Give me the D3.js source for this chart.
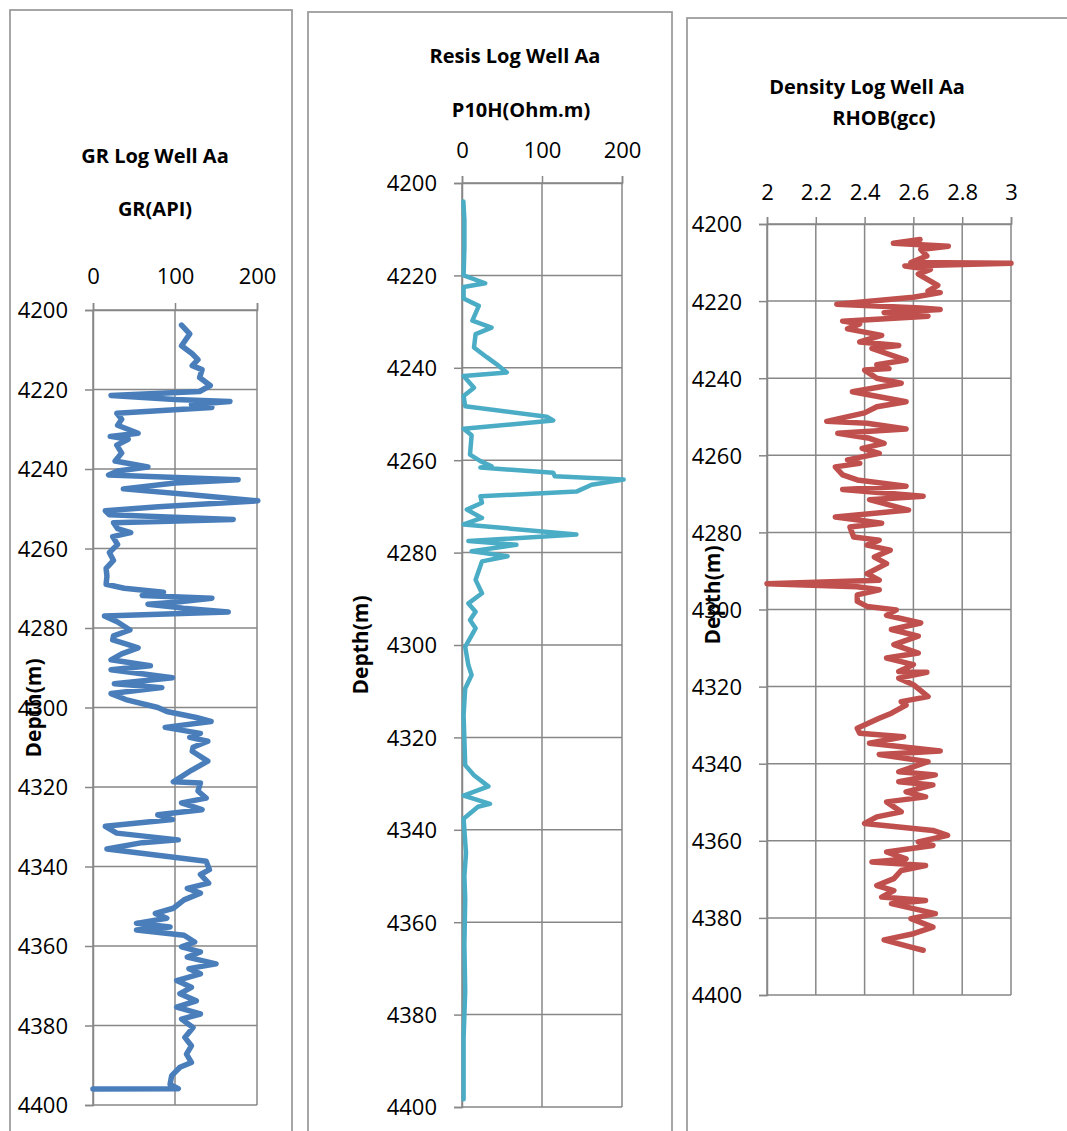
<!DOCTYPE html>
<html>
<head>
<meta charset="utf-8">
<script src="https://cdn.jsdelivr.net/npm/d3@7"></script>
<style>
  body { margin: 0; background: #fff; }
  svg { display: block; font-family: "Open Sans", sans-serif; }
</style>
</head>
<body>
<div class="chart"></div>
<script>
//----Data----
const depthTicks = [4200, 4220, 4240, 4260, 4280, 4300, 4320, 4340, 4360, 4380, 4400]
const grTicks = [0, 100, 200]
const resTicks = [0, 100, 200]
const rhobTicks = [2, 2.2, 2.4, 2.6, 2.8, 3]

const grDepth = [4203.8, 4206, 4209, 4211, 4212.5, 4214, 4215, 4217, 4219, 4220.5, 4221.5, 4222.5, 4223, 4223.8, 4224.5,
  4226, 4227.5, 4229, 4231, 4231.8, 4232.5, 4234, 4236, 4238, 4239.5, 4240.5, 4241.5, 4242.7, 4243.5, 4245, 4246.5,
  4248, 4249.5, 4250.5, 4251.5, 4252.7, 4253.5, 4255, 4256, 4257, 4259, 4261, 4263, 4265, 4267, 4269, 4270, 4271,
  4271.8, 4272.5, 4273.5, 4274, 4275, 4276, 4277, 4278.5, 4280.5, 4282, 4283, 4284, 4285, 4286.5, 4288, 4289.5,
  4290.5, 4292.5, 4294, 4295, 4296.5, 4298, 4300, 4301, 4302.5, 4303.5, 4305, 4306.5, 4307.5, 4308.5, 4310, 4311,
  4313.5, 4315.8, 4318.7, 4319, 4321, 4322.8, 4324, 4325.7, 4327, 4328.2, 4329.9, 4331.6, 4333.3, 4334, 4335.6,
  4338.7, 4340.8, 4342, 4344.2, 4345.5, 4346.7, 4348.4, 4350.5, 4351.8, 4353, 4354.3, 4355.2, 4356, 4357.3, 4359,
  4360.2, 4361.5, 4362.8, 4364.5, 4365.7, 4367, 4368.7, 4370.4, 4372, 4373.8, 4375.4, 4377.1, 4378.4, 4380.5, 4383,
  4385.1, 4387.2, 4389.3, 4390.5, 4392.6, 4394.8, 4395.9, 4396]
const grValue = [108, 118, 108, 121, 128, 121, 133, 130, 143, 130, 22, 100, 167, 120, 145,
  29, 35, 30, 55, 21, 43, 29, 35, 27, 67, 30, 19, 177, 100, 37, 120,
  201, 80, 15, 20, 171, 25, 30, 46, 24, 30, 20, 25, 16, 17, 16, 38, 86,
  60, 145, 100, 67, 110, 165, 14, 30, 45, 25, 24, 40, 55, 35, 22, 70,
  22, 97, 26, 84, 22, 40, 79, 90, 126, 144, 88, 131, 118, 140, 122, 121,
  140, 120, 98, 131, 128, 138, 108, 133, 79, 97, 15, 29, 104, 60, 17,
  138, 142, 131, 141, 115, 131, 111, 98, 76, 90, 53, 94, 53, 111, 124,
  108, 131, 115, 150, 117, 131, 102, 120, 106, 126, 102, 131, 108, 122, 112,
  120, 114, 120, 106, 96, 94, 104, 0]

const resDepth = [4204, 4208, 4214, 4220, 4221.7, 4222.5, 4225, 4226.6, 4229.8, 4231.3, 4232.7, 4235.6, 4237.7, 4239.2,
  4241, 4241.8, 4244.3, 4246.1, 4248.3, 4250.6, 4251.4, 4253.2, 4254.6, 4258.8, 4260.2, 4261.3, 4261.6, 4262.7,
  4263.5, 4264.2, 4265.3, 4266.8, 4267.8, 4269.2, 4270.7, 4272.5, 4273.9, 4276.1, 4277.5, 4278.3, 4279.7, 4280.8,
  4281.9, 4285.9, 4288.8, 4291, 4292.8, 4294.6, 4296.4, 4300.4, 4304.4, 4306.5, 4309.4, 4315.2, 4326, 4328.2,
  4330.6, 4332.6, 4334.4, 4335, 4337.6, 4345, 4350, 4355, 4365, 4375, 4385, 4398.3]
const resValue = [1.7, 3, 3, 2, 29, 2, 2, 21, 13, 37, 17, 15, 31, 43,
  56, 2, 15, 2, 4, 106, 114, 2, 12, 10, 23, 37, 23, 114,
  116, 202, 162, 143, 23, 25, 6, 25, 2, 143, 8, 68, 12, 57,
  25, 17, 25, 8, 17, 10, 17, 4, 8, 12, 4, 2, 4, 15,
  33, 2, 35, 20, 2, 5, 3, 4, 3, 4, 2, 2]

const rhobDepth = [4204, 4205, 4205.8, 4206.6, 4208.3, 4210, 4210.2, 4210.9, 4211.8, 4213, 4215.9, 4217.4, 4217.8, 4219,
  4220.8, 4221.8, 4222.2, 4223, 4223.9, 4225.2, 4225.9, 4227.2, 4228.9, 4230.6, 4231.5, 4232.3, 4235.3, 4236.5,
  4237.5, 4237.9, 4240, 4241.3, 4243.5, 4246.1, 4247.4, 4249, 4251.2, 4251.7, 4253.2, 4254.3, 4255.6, 4256.9,
  4258.2, 4259.5, 4261.2, 4262.1, 4263, 4265.1, 4266.4, 4268, 4268.9, 4270.6, 4271.5, 4274.2, 4276, 4277.6,
  4278.6, 4281.2, 4282, 4283.3, 4284.6, 4286.4, 4288.1, 4290.7, 4292.4, 4293.3, 4294.1, 4294.9, 4296.2, 4297.9,
  4299.2, 4300.1, 4301.5, 4303.5, 4305.2, 4306.9, 4309.1, 4311.3, 4312.6, 4314.3, 4316.1, 4316.3, 4317.8, 4319.5,
  4322.6, 4323.9, 4324.8, 4326.9, 4328.2, 4330.8, 4332.1, 4333, 4334.7, 4336.7, 4337.6, 4339.5, 4342.1, 4342.9,
  4344.7, 4345.5, 4347.3, 4348.6, 4349.9, 4352.5, 4353.8, 4355.5, 4357.3, 4358.6, 4360.3, 4361.2, 4362.9, 4364.7,
  4365.5, 4366.4, 4367.7, 4369.8, 4371.6, 4372.9, 4374.6, 4375.5, 4376.3, 4378.9, 4380.2, 4382.4, 4384.1, 4385.7,
  4387.6, 4388.4]
const rhobValue = [2.627, 2.518, 2.743, 2.63, 2.655, 2.59, 3.0, 2.565, 2.67, 2.62, 2.70, 2.66, 2.71, 2.6,
  2.286, 2.63, 2.71, 2.48, 2.66, 2.31, 2.38, 2.33, 2.47, 2.38, 2.54, 2.43, 2.57, 2.45,
  2.50, 2.40, 2.45, 2.55, 2.35, 2.57, 2.45, 2.40, 2.245, 2.41, 2.57, 2.29, 2.42, 2.48,
  2.39, 2.46, 2.33, 2.38, 2.28, 2.31, 2.37, 2.57, 2.31, 2.64, 2.42, 2.58, 2.28, 2.47,
  2.34, 2.355, 2.46, 2.41, 2.505, 2.44, 2.49, 2.41, 2.46, 2.0, 2.37, 2.46, 2.37, 2.37,
  2.41, 2.53, 2.49, 2.63, 2.51, 2.62, 2.52, 2.62, 2.49, 2.6, 2.54, 2.655, 2.54, 2.6,
  2.66, 2.55, 2.57, 2.51, 2.46, 2.37, 2.38, 2.56, 2.42, 2.71, 2.46, 2.66, 2.54, 2.69,
  2.54, 2.68, 2.57, 2.65, 2.49, 2.55, 2.45, 2.40, 2.68, 2.74, 2.62, 2.68, 2.49, 2.57,
  2.43, 2.65, 2.55, 2.52, 2.45, 2.52, 2.47, 2.65, 2.51, 2.69, 2.59, 2.68, 2.60, 2.48,
  2.59, 2.64]

//----Layout----
const svg = d3.select(".chart").append("svg")
    .attr("width", 1067)
    .attr("height", 1131)

const tracks = [
  {box: [10, 10, 282, 1140], plot: [93, 310, 257, 1105], domain: [0, 200], ticks: grTicks,
   depth: grDepth, value: grValue, color: "#4a7ebb", width: 5.5,
   title: ["GR Log Well Aa", 155, 156], unit: ["GR(API)", 155, 209],
   topLabelY: 276, depthLabel: [33, 708]},
  {box: [308, 12, 364, 1140], plot: [462, 183, 622, 1107], domain: [0, 200], ticks: resTicks,
   depth: resDepth, value: resValue, color: "#4bacc6", width: 4.5,
   title: ["Resis Log Well Aa", 515, 56], unit: ["P10H(Ohm.m)", 521, 110],
   topLabelY: 150, depthLabel: [360, 645]},
  {box: [687, 18, 420, 1140], plot: [767, 224, 1011, 995], domain: [2, 3], ticks: rhobTicks,
   depth: rhobDepth, value: rhobValue, color: "#c0504d", width: 5.5,
   title: ["Density Log Well Aa", 867, 87], unit: ["RHOB(gcc)", 884, 118],
   topLabelY: 192, depthLabel: [712, 595]}
]

function drawTrack(t) {
  const g = svg.append("g")

  // chart border
  g.append("rect")
    .attr("x", t.box[0]).attr("y", t.box[1])
    .attr("width", t.box[2]).attr("height", t.box[3])
    .attr("fill", "none")
    .attr("stroke", "#9a9a9a")
    .attr("stroke-width", 1.75)

  const x = d3.scaleLinear().domain(t.domain).range([t.plot[0], t.plot[2]])
  const y = d3.scaleLinear().domain([4200, 4400]).range([t.plot[1], t.plot[3]])

  // gridlines
  g.append("g").selectAll("line").data(depthTicks).enter().append("line")
    .attr("x1", t.plot[0]).attr("x2", t.plot[2])
    .attr("y1", d => y(d)).attr("y2", d => y(d))
    .attr("stroke", "#878787").attr("stroke-width", 1.5)

  g.append("g").selectAll("line").data(t.ticks).enter().append("line")
    .attr("x1", d => x(d)).attr("x2", d => x(d))
    .attr("y1", t.plot[1]).attr("y2", t.plot[3])
    .attr("stroke", "#878787").attr("stroke-width", 1.5)

  const yAxis = d3.axisLeft(y).tickValues(depthTicks).tickSize(8).tickPadding(17).tickFormat(d3.format("d"))
  const xAxis = d3.axisTop(x).tickValues(t.ticks).tickSize(7).tickPadding(20).tickFormat(d => d)

  const ya = g.append("g")
    .attr("transform", `translate(${t.plot[0]},0)`)
    .call(yAxis)
  const xa = g.append("g")
    .attr("transform", `translate(0,${t.plot[1]})`)
    .call(xAxis)

  for (const a of [ya, xa]) {
    a.select(".domain").attr("stroke", "#878787").attr("stroke-width", 1.5)
    a.selectAll(".tick line").attr("stroke", "#878787").attr("stroke-width", 1.5)
    a.selectAll(".tick text")
      .attr("fill", "#000")
      .style("font-size", "22px")
      .style("font-family", "'Open Sans', sans-serif")
  }
  ya.selectAll(".tick text").attr("dy", "0.36em")
  xa.selectAll(".tick text")
    .attr("y", null).attr("dy", "0.36em")
    .attr("transform", `translate(0,${t.topLabelY - t.plot[1]})`)

  // log curve
  const pts = d3.zip(t.depth, t.value)
  const line = d3.line()
    .x(d => x(d[1]))
    .y(d => y(d[0]))

  g.append("path")
    .datum(pts)
    .attr("d", line)
    .attr("fill", "none")
    .attr("stroke", t.color)
    .attr("stroke-width", t.width)
    .attr("stroke-linejoin", "round")
    .attr("stroke-linecap", "round")

  // titles
  g.append("text")
    .attr("x", t.title[1]).attr("y", t.title[2])
    .attr("dy", "0.36em")
    .attr("text-anchor", "middle")
    .style("font-size", "20px").style("font-weight", "bold")
    .text(t.title[0])

  g.append("text")
    .attr("x", t.unit[1]).attr("y", t.unit[2])
    .attr("dy", "0.36em")
    .attr("text-anchor", "middle")
    .style("font-size", "20px").style("font-weight", "bold")
    .text(t.unit[0])

  g.append("text")
    .attr("transform", `translate(${t.depthLabel[0]},${t.depthLabel[1]}) rotate(-90)`)
    .attr("dy", "0.36em")
    .attr("text-anchor", "middle")
    .style("font-size", "21px").style("font-weight", "bold")
    .text("Depth(m)")
}

tracks.forEach(drawTrack)
</script>
</body>
</html>
